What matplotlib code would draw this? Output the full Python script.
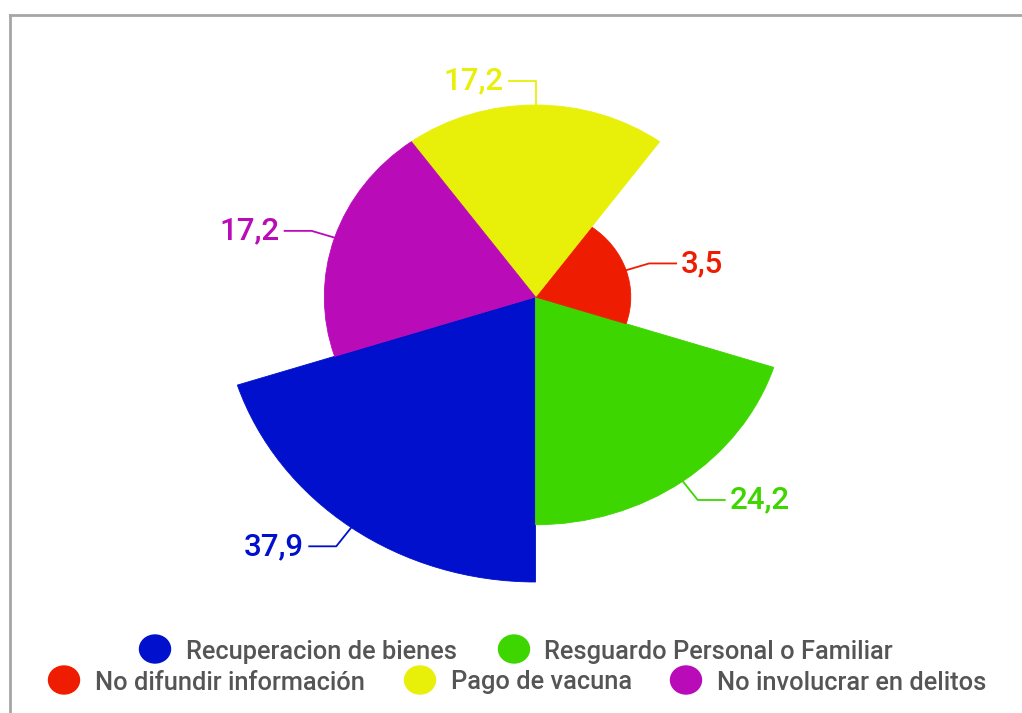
import numpy as np
import matplotlib
matplotlib.use("Agg")
import matplotlib.pyplot as plt
from matplotlib.lines import Line2D
from matplotlib.patches import Ellipse

# ---------- data ----------
categories = [
    "Recuperacion de bienes",
    "Resguardo Personal o Familiar",
    "No difundir información",
    "Pago de vacuna",
    "No involucrar en delitos",
]
values = [37.9, 24.2, 3.5, 17.2, 17.2]
colors = ["#0010cc", "#3dd600", "#ee1c00", "#e8f00a", "#b90bb8"]

# legend rows (indices into categories)
legend_rows = [[0, 1], [2, 3, 4]]

W, H = 1022, 713
FONT = "Roboto"

fig = plt.figure(figsize=(W / 100, H / 100), dpi=100)
fig.patch.set_facecolor("white")

# rose chart: equal angles, radius ~ sqrt(value); slightly wider than tall
cx, cy = 535.5, 297
rx, ry = 313.5, 285
ax = fig.add_axes([(cx - rx) / W, (H - cy - ry) / H, 2 * rx / W, 2 * ry / H],
                  projection="polar")
ax.set_aspect("auto")
ax.axis("off")

n = len(values)
step = 2 * np.pi / n
start = np.deg2rad(198)
theta = start + step * np.arange(n) + step / 2
radii = np.sqrt(values)
ax.set_ylim(0, radii.max())

ax.bar(theta, radii, width=step, bottom=0, color=colors,
       edgecolor=colors, linewidth=0.6, clip_on=False)

# value labels with two-segment leader lines (pixel space)
L1, L2, GAP = 24, 27, 5
c0 = ax.transData.transform((0, 0))
for t, r, v, col in zip(theta, radii, values, colors):
    a = ax.transData.transform((t, r))
    d = (a - c0) / np.hypot(*(a - c0))
    b = a + d * L1
    side = 1 if d[0] > 0.01 else -1
    c = b + np.array([side * L2, 0])
    xs = np.array([a[0], b[0], c[0]]) / W
    ys = np.array([a[1], b[1], c[1]]) / H
    fig.add_artist(Line2D(xs, ys, transform=fig.transFigure, color=col, lw=1.3))
    fig.text((c[0] + side * GAP) / W, c[1] / H, f"{v:.1f}".replace(".", ","),
             color=col, fontsize=22.5, family=FONT, weight="medium",
             ha="left" if side > 0 else "right", va="center")

# legend, two centred rows
marker_x = [[155, 514], [64, 420, 686]]
text_x = [[186, 544], [95, 451, 717]]
row_y = [649, 680]
for row, mxs, txs, yy in zip(legend_rows, marker_x, text_x, row_y):
    for i, mx, tx in zip(row, mxs, txs):
        fig.add_artist(Ellipse((mx / W, (H - yy) / H), 31 / W, 28 / H,
                               transform=fig.transFigure, color=colors[i]))
        fig.text(tx / W, (H - yy) / H, categories[i], color="#555555",
                 fontsize=18.3, family=FONT, weight="medium",
                 ha="left", va="center_baseline")

# container border (top and left)
fig.add_artist(Line2D([10 / W, 1], [(H - 15) / H] * 2, transform=fig.transFigure,
                      color="#a6a6a6", lw=2))
fig.add_artist(Line2D([10 / W] * 2, [0, (H - 15) / H], transform=fig.transFigure,
                      color="#a6a6a6", lw=2))

fig.savefig("out.png", dpi=100)
